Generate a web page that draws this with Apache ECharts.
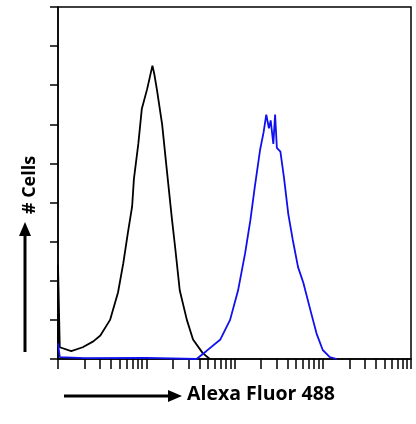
<!DOCTYPE html>
<html>
<head>
<meta charset="utf-8">
<script src="https://cdn.jsdelivr.net/npm/echarts@6/dist/echarts.min.js"></script>
<style>html,body{margin:0;padding:0;background:#fff}#chart{width:416px;height:424px}</style>
</head>
<body>
<div id="chart"></div>
<script>
// x values are log10 of fluorescence intensity, y values are counts (arbitrary units 0..9)
const controlX = [0, 0, 0.02, 0.15, 0.28, 0.4, 0.48, 0.59, 0.68, 0.74, 0.79, 0.84, 0.86, 0.91, 0.95, 1.01, 1.04, 1.07, 1.09, 1.12, 1.18, 1.23, 1.29, 1.33, 1.38, 1.46, 1.53, 1.64, 1.72];
const controlY = [0, 2.4, 0.3, 0.2, 0.3, 0.45, 0.6, 1.0, 1.7, 2.45, 3.2, 3.9, 4.6, 5.5, 6.4, 6.9, 7.2, 7.5, 7.3, 6.9, 6.0, 4.9, 3.6, 2.8, 1.75, 1.0, 0.5, 0.15, 0.0];
const stainedX = [0, 0.02, 0.3, 1.0, 1.57, 1.68, 1.84, 1.95, 2.04, 2.12, 2.18, 2.23, 2.29, 2.33, 2.36, 2.39, 2.41, 2.44, 2.46, 2.48, 2.52, 2.56, 2.61, 2.66, 2.72, 2.78, 2.86, 2.93, 3.0, 3.08, 3.16];
const stainedY = [0.4, 0.05, 0.02, 0.03, 0, 0.2, 0.5, 1.0, 1.75, 2.7, 3.55, 4.4, 5.35, 5.8, 6.25, 5.9, 6.1, 5.5, 6.25, 5.4, 5.3, 4.65, 3.7, 3.05, 2.35, 1.95, 1.25, 0.65, 0.23, 0.05, 0];

const decades = [0, 1, 2, 3];
const tickValues = [];
decades.forEach(d => { for (let m = 1; m <= 9; m++) tickValues.push(d + Math.log10(m)); });
tickValues.push(4);

const chart = echarts.init(document.getElementById('chart'));
const font = 'Open Sans';
chart.setOption({
  animation: false,
  grid: { left: 58, right: 5, top: 7, bottom: 65 },
  xAxis: {
    type: 'value', min: 0, max: 4,
    axisLine: { lineStyle: { color: '#000', width: 1.5 } },
    axisTick: { show: true, customValues: tickValues, length: 10, inside: false, lineStyle: { color: '#000', width: 1.5 } },
    axisLabel: { show: false },
    splitLine: { show: false }
  },
  yAxis: {
    type: 'value', min: 0, max: 9, interval: 1,
    axisLine: { show: true, lineStyle: { color: '#000', width: 1.5 } },
    axisTick: { show: true, length: 8, lineStyle: { color: '#000', width: 1.5 } },
    axisLabel: { show: false },
    splitLine: { show: false }
  },
  series: [
    { type: 'line', data: controlX.map((x, i) => [x, controlY[i]]), showSymbol: false, lineStyle: { color: '#000', width: 1.8 } },
    { type: 'line', data: stainedX.map((x, i) => [x, stainedY[i]]), showSymbol: false, lineStyle: { color: '#1010ee', width: 1.8 } }
  ],
  graphic: [
    { type: 'rect', shape: { x: 58, y: 7, width: 353, height: 352 }, style: { fill: 'none', stroke: '#000', lineWidth: 1.5 }, silent: true },
    { type: 'text', x: 30, y: 185, rotation: Math.PI / 2, style: { text: '# Cells', font: 'bold 18px ' + font, fill: '#000', align: 'center', verticalAlign: 'middle' } },
    { type: 'line', shape: { x1: 25, y1: 352, x2: 25, y2: 232 }, style: { stroke: '#000', lineWidth: 3 } },
    { type: 'polygon', shape: { points: [[19, 236], [31, 236], [25, 222]] }, style: { fill: '#000' } },
    { type: 'line', shape: { x1: 64, y1: 396, x2: 172, y2: 396 }, style: { stroke: '#000', lineWidth: 3 } },
    { type: 'polygon', shape: { points: [[168, 390], [168, 402], [182, 396]] }, style: { fill: '#000' } },
    { type: 'text', x: 187, y: 394, style: { text: 'Alexa Fluor 488', font: 'bold 19.5px ' + font, fill: '#000', align: 'left', verticalAlign: 'middle' } }
  ]
});
</script>
</body>
</html>
